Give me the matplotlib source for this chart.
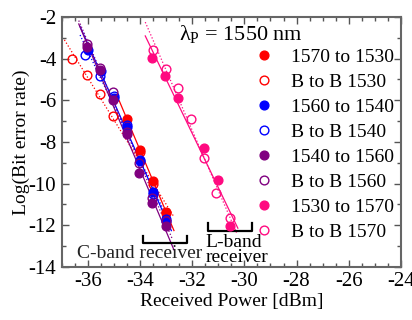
import numpy as np
import matplotlib
matplotlib.use("Agg")
import matplotlib.pyplot as plt
from matplotlib.ticker import MultipleLocator

plt.rcParams['font.family'] = ['Liberation Serif', 'DejaVu Serif']
plt.rcParams['mathtext.fontset'] = 'custom'
plt.rcParams['mathtext.rm'] = 'Liberation Serif'
plt.rcParams['axes.unicode_minus'] = False

# ---- data (received power dBm, log BER) ----
x_1570_1530 = [-34.5, -34.0, -33.5, -33.0]
y_1570_1530 = [-6.9, -8.4, -9.9, -11.35]
x_b2b_1530 = [-36.6, -36.05, -35.55, -35.05, -34.0, -33.5, -33.0]
y_b2b_1530 = [-4.0, -4.8, -5.7, -6.75, -8.5, -10.0, -11.4]
x_1560_1540 = [-36.0, -35.5, -35.0, -34.5, -34.0, -33.5, -33.0]
y_1560_1540 = [-3.6, -4.6, -5.9, -7.3, -8.9, -10.4, -11.8]
x_b2b_1540 = [-36.1, -35.55, -35.0, -34.5, -34.0, -33.5, -33.0]
y_b2b_1540 = [-3.85, -4.85, -5.8, -7.2, -8.85, -10.5, -11.7]
x_1540_1560 = [-36.05, -35.55, -35.05, -34.5, -34.05, -33.55, -33.0]
y_1540_1560 = [-3.45, -4.55, -6.0, -7.6, -9.5, -10.95, -12.05]
x_b2b_1560 = [-36.05, -35.55, -35.05, -34.5, -34.05, -33.55, -33.0]
y_b2b_1560 = [-3.3, -4.45, -5.6, -7.5, -9.0, -10.7, -11.8]
x_1530_1570 = [-33.55, -33.05, -32.55, -31.55, -31.0, -30.55]
y_1530_1570 = [-3.95, -4.85, -5.9, -8.3, -9.85, -12.05]
x_b2b_1570 = [-33.5, -33.0, -32.55, -32.05, -31.55, -31.1, -30.55]
y_b2b_1570 = [-3.6, -4.5, -5.4, -6.9, -8.75, -10.45, -11.65]

labels = ['1570 to 1530', 'B to B 1530', '1560 to 1540', 'B to B 1540',
          '1540 to 1560', 'B to B 1560', '1530 to 1570', 'B to B 1570']
xs = [x_1570_1530, x_b2b_1530, x_1560_1540, x_b2b_1540,
      x_1540_1560, x_b2b_1560, x_1530_1570, x_b2b_1570]
ys = [y_1570_1530, y_b2b_1530, y_1560_1540, y_b2b_1540,
      y_1540_1560, y_b2b_1560, y_1530_1570, y_b2b_1570]
colors = ['#FF0000', '#FF0000', '#0000FF', '#0000FF',
          '#800080', '#800080', '#FF0A80', '#FF0A80']
filled = [True, False, True, False, True, False, True, False]
fit_ranges = [(-34.8, -32.7), (-36.9, -32.7), (-36.3, -32.8), (-36.3, -32.8),
              (-36.35, -32.7), (-36.35, -32.75), (-33.8, -30.25), (-33.8, -30.3)]

fig = plt.figure(figsize=(4.12, 3.2), dpi=100)
ax = fig.add_axes([0.150, 0.166, 0.823, 0.781])

handles = []
for x, y, c, f, lab, rng in zip(xs, ys, colors, filled, labels, fit_ranges):
    p = np.polyfit(x, y, 1)
    xl = np.array(rng)
    ax.plot(xl, np.polyval(p, xl), color=c, lw=0.9,
            ls='-' if f else ':', zorder=2)
for x, y, c, f, lab in zip(xs, ys, colors, filled, labels):
    h, = ax.plot(x, y, ls='none', marker='o', ms=6.3,
                 mfc=c if f else 'none', mec=c, mew=1.0, label=lab, zorder=3)
    handles.append(h)

ax.set_xlim(-37, -24)
ax.set_ylim(-14, -2)
ax.xaxis.set_major_locator(MultipleLocator(2))
ax.xaxis.set_minor_locator(MultipleLocator(0.5))
ax.yaxis.set_major_locator(MultipleLocator(2))
ax.yaxis.set_minor_locator(MultipleLocator(1))
ax.tick_params(which='both', direction='in', top=True, right=True,
               labelsize=15, color='#555555', pad=4)
ax.tick_params(which='major', length=5, width=1)
ax.tick_params(which='minor', length=3, width=1)
for s in ax.spines.values():
    s.set_color('#666666')
    s.set_linewidth(1.5)

ax.set_xlabel('Received Power [dBm]', fontsize=14, labelpad=1)
ax.set_ylabel('Log(Bit error rate)', fontsize=14, labelpad=-1)

ax.text(-32.5, -2.8, r'$\mathregular{\lambda_P}$ = 1550 nm', fontsize=16,
        ha='left', va='center')

leg = ax.legend(handles=handles, loc='upper left', bbox_to_anchor=(0.555, 0.905),
                frameon=False, fontsize=14, handlelength=0.6,
                handletextpad=1.1, labelspacing=0.38, borderaxespad=0)

# C-band bracket
cx0, cx1, cyb, cyt = -33.9, -32.2, -12.85, -12.5
ax.plot([cx0, cx0, cx1, cx1], [cyt, cyb, cyb, cyt], color='black', lw=1.6,
        solid_joinstyle='round')
ax.text(-34.02, -13.57, 'C-band receiver', fontsize=14, ha='center', va='baseline',
        color='#222222')
# L-band bracket
lx0, lx1, lyt, lyb = -31.4, -29.72, -11.9, -12.3
ax.plot([lx0, lx0, lx1, lx1], [lyt, lyb, lyb, lyt], color='black', lw=1.6,
        solid_joinstyle='round')
ax.text(-31.5, -13.04, 'L-band', fontsize=14, ha='left', va='baseline')
ax.text(-31.5, -13.76, 'receiver', fontsize=14, ha='left', va='baseline')

fig.savefig('out.png', dpi=100)
